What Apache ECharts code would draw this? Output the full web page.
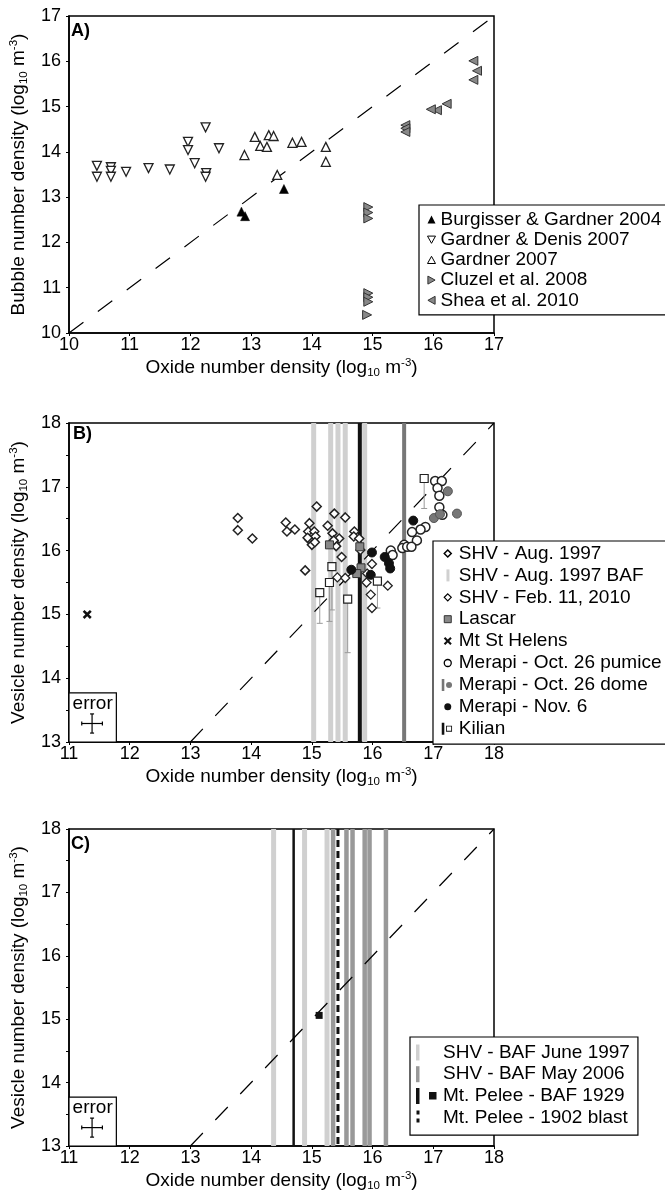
<!DOCTYPE html>
<html><head><meta charset="utf-8">
<script src="https://cdn.jsdelivr.net/npm/echarts@6/dist/echarts.min.js"></script>
<style>html,body{margin:0;padding:0;background:#fff}#c{width:665px;height:1193px}</style>
</head><body><div id="c"></div>
<script>
const FONT = 'Liberation Sans, Arial, Helvetica, sans-serif';

// ---------- Panel A: [oxide, bubble] (log10 m^-3) ----------
const rangeA = [10, 17];
const burgisser = [[12.84,12.68],[12.9,12.58],[13.54,13.18]];
const gardnerDenis = [[10.46,13.69],[10.46,13.45],[10.69,13.66],[10.69,13.58],[10.69,13.45],[10.94,13.56],[11.31,13.64],[11.66,13.61],[11.96,14.22],[11.96,14.04],[12.07,13.75],[12.25,14.54],[12.26,13.53],[12.25,13.45],[12.47,14.08]];
const gardner2007 = [[12.89,13.93],[13.06,14.33],[13.15,14.13],[13.26,14.11],[13.29,14.37],[13.37,14.35],[13.68,14.2],[13.83,14.22],[14.23,14.11],[14.23,13.78],[13.43,13.49]];
const cluzel = [[14.93,12.78],[14.93,12.66],[14.93,12.53],[14.93,10.88],[14.93,10.79],[14.93,10.69],[14.91,10.40]];
const shea = [[16.66,16.01],[16.72,15.79],[16.66,15.59],[16.22,15.06],[16.06,14.92],[15.96,14.94],[15.54,14.59],[15.54,14.52],[15.54,14.44]];

// ---------- Panel B: [oxide, vesicle] ----------
const rangeB = [11, 18];
const rangeVes = [13, 18];
const shvAug1997 = [[13.78,16.51],[13.78,16.32],[14.02,16.19],[14.57,16.44],[14.59,16.30],[14.72,16.33],[14.89,15.69],[14.96,16.43],[14.94,16.30],[15.04,16.30],[14.96,16.17],[15.06,16.22],[14.93,16.20],[15.0,16.09],[15.05,16.13],[15.08,16.69],[15.26,16.39],[15.34,16.27],[15.37,16.58],[15.55,16.52],[15.45,16.19],[15.40,16.07],[15.49,15.90],[15.36,16.16],[15.70,16.30],[15.69,16.22],[15.78,16.19]];
const shvAug1997BAF = [15.03, 15.31, 15.43, 15.55, 15.87];
const shvFeb2010 = [[15.42,15.58],[15.55,15.57],[15.80,16.01],[15.99,15.79],[15.91,15.64],[15.90,15.50],[15.97,15.31],[15.99,15.10],[16.25,15.45]];
const lascar = [[15.29,16.09],[15.79,16.06],[15.81,15.73],[15.74,15.64]];
const mtStHelens = [[11.3,15.0]];
const merapiPumice = [[17.03,17.09],[17.14,17.09],[17.07,16.98],[17.10,16.86],[17.10,16.68],[17.15,16.56],[16.87,16.37],[16.79,16.33],[16.65,16.29],[16.73,16.16],[16.52,16.09],[16.49,16.04],[16.57,16.06],[16.64,16.06],[16.30,16.00],[16.33,15.93]];
const merapiDome = [[17.24,16.93],[17.39,16.58],[17.01,16.51],[17.11,16.57]];
const merapiDomeLines = [16.52];
const merapiNov6 = [[16.67,16.47],[15.99,15.97],[16.20,15.90],[16.27,15.80],[16.29,15.72],[15.65,15.70],[15.97,15.62]];
const kilianLines = [15.79];
// [oxide, vesicle, lower error]
const kilian = [[15.13,15.34,14.86],[15.29,15.50,14.89],[15.33,15.75,15.07],[15.59,15.24,14.40],[16.08,15.52,15.10],[16.85,17.13,16.66]];
// error cross: [x, y, ±x, ±y]; box: [x0, y0, x1, y1]
const errorCross = [11.38, 13.29, 0.17, 0.15];
const errorBox = [11, 13, 11.78, 13.77];

// ---------- Panel C ----------
const shvJune1997BAF = [14.37, 14.88, 15.25];
const shvMay2006BAF = [15.35, 15.57, 15.67, 15.87, 15.95, 16.22];
const pelee1929Lines = [14.70];
const pelee1929 = [[15.12, 15.06]];
const pelee1902Lines = [15.43];

const rich = {
  a:{fontSize:19, fontFamily:FONT, color:'#000', lineHeight:22},
  s:{fontSize:11.5, fontFamily:FONT, color:'#000', lineHeight:22, verticalAlign:'bottom'},
  p:{fontSize:11.5, fontFamily:FONT, color:'#000', lineHeight:22, verticalAlign:'top'}
};
const title = w => `{a|${w} (log}{s|10}{a| m}{p|-3}{a|)}`;

function xAxis(gi, r){
  return {gridIndex:gi, type:'value', min:r[0], max:r[1], interval:1,
    axisLine:{show:true, onZero:false, lineStyle:{color:'#000', width:1.5}},
    axisTick:{show:true, length:3, lineStyle:{color:'#000'}},
    splitLine:{show:false},
    axisLabel:{fontSize:18, color:'#000', fontFamily:FONT, margin:3},
    name:title('Oxide number density'), nameLocation:'middle', nameGap:24,
    nameTextStyle:{rich}};
}
function yAxis(gi, r, step, nm){
  return {gridIndex:gi, type:'value', min:r[0], max:r[1], interval:step,
    axisLine:{show:true, onZero:false, lineStyle:{color:'#000', width:1.5}},
    axisTick:{show:true, length:3, lineStyle:{color:'#000'}},
    splitLine:{show:false},
    axisLabel:{fontSize:18, color:'#000', fontFamily:FONT, margin:8,
      formatter:v => (Math.abs(v - Math.round(v)) < 1e-6 ? String(Math.round(v)) : '')},
    name:title(nm), nameLocation:'middle', nameGap:39, nameTextStyle:{rich}};
}

function vlines(name, gi, xs, color, width, dash){
  return {name, type:'custom', xAxisIndex:gi, yAxisIndex:gi, silent:true,
    data:xs.map(v => [v]), encode:{x:0},
    renderItem:(params, api) => {
      const cs = params.coordSys;
      const x = api.coord([api.value(0), 0])[0];
      return {type:'line', shape:{x1:x, y1:cs.y, x2:x, y2:cs.y + cs.height},
        style:{stroke:color, lineWidth:width, lineDash:dash || null}};
    }};
}
function diag(gi, r){
  return {type:'line', xAxisIndex:gi, yAxisIndex:gi, silent:true, symbol:'none',
    data:r.map(v => [v, v]), lineStyle:{color:'#000', width:1.2, type:[18,18]}, z:3};
}
function pts(name, gi, data, symbol, size, fill, stroke, bw, rot){
  return {name, type:'scatter', xAxisIndex:gi, yAxisIndex:gi, data, symbol, symbolSize:size,
    symbolRotate:rot || 0,
    itemStyle:{color:fill, borderColor:stroke, borderWidth:bw, opacity:1}, z:5};
}
function errorKey(gi){
  return {type:'custom', xAxisIndex:gi, yAxisIndex:gi, silent:true, data:[errorCross],
    renderItem:(params, api) => {
      const [cx, cy, ex, ey] = errorCross;
      const p0 = api.coord([errorBox[0], errorBox[1]]), p1 = api.coord([errorBox[2], errorBox[3]]);
      const l = api.coord([cx-ex, cy]), r = api.coord([cx+ex, cy]);
      const t = api.coord([cx, cy+ey]), b = api.coord([cx, cy-ey]);
      const st = {stroke:'#000', lineWidth:1.2};
      return {type:'group', children:[
        {type:'rect', shape:{x:p0[0], y:p1[1], width:p1[0]-p0[0], height:p0[1]-p1[1]}, style:{fill:'#fff', stroke:'#000', lineWidth:1.2}},
        {type:'line', shape:{x1:l[0], y1:l[1], x2:r[0], y2:r[1]}, style:st},
        {type:'line', shape:{x1:t[0], y1:t[1], x2:b[0], y2:b[1]}, style:st},
        {type:'line', shape:{x1:l[0], y1:l[1]-2, x2:l[0], y2:l[1]+2}, style:st},
        {type:'line', shape:{x1:r[0], y1:r[1]-2, x2:r[0], y2:r[1]+2}, style:st},
        {type:'line', shape:{x1:t[0]-2, y1:t[1], x2:t[0]+2, y2:t[1]}, style:st},
        {type:'line', shape:{x1:b[0]-2, y1:b[1], x2:b[0]+2, y2:b[1]}, style:st},
        {type:'text', style:{text:'error', x:(p0[0]+p1[0])/2, y:p1[1]+1, align:'center', verticalAlign:'top', fontSize:19, fontFamily:FONT, fill:'#000'}}
      ]};
    }, z:6};
}

const XS = 'path://M0,2 L2,0 L5,3 L8,0 L10,2 L7,5 L10,8 L8,10 L5,7 L2,10 L0,8 L3,5 Z';
const C12 = ' M0,0 M12,12';
const legText = {fontSize:19, color:'#000', fontFamily:FONT, lineHeight:19};

const option = {
  backgroundColor:'#fff',
  animation:false,
  title:[
    {text:'A)', left:71, top:22, padding:0, textStyle:{fontSize:18, fontWeight:'bold', fontFamily:FONT, color:'#000'}},
    {text:'B)', left:73, top:425, padding:0, textStyle:{fontSize:18, fontWeight:'bold', fontFamily:FONT, color:'#000'}},
    {text:'C)', left:71, top:835, padding:0, textStyle:{fontSize:18, fontWeight:'bold', fontFamily:FONT, color:'#000'}}
  ],
  grid:[
    {left:66, top:16, width:428, height:317, show:true, borderColor:'#000', borderWidth:1.5},
    {left:66, top:423, width:428, height:319, show:true, borderColor:'#000', borderWidth:1.5},
    {left:66, top:829, width:428, height:318, show:true, borderColor:'#000', borderWidth:1.5}
  ],
  xAxis:[xAxis(0, rangeA), xAxis(1, rangeB), xAxis(2, rangeB)],
  yAxis:[yAxis(0, rangeA, 1, 'Bubble number density'), yAxis(1, rangeVes, 0.5, 'Vesicle number density'), yAxis(2, rangeVes, 0.5, 'Vesicle number density')],
  legend:[
    {left:419, top:205, orient:'vertical', padding:[5,8,5,8], itemGap:1.2, itemWidth:8, itemHeight:8,
     borderColor:'#000', borderWidth:1.2, backgroundColor:'#fff', selectedMode:false, textStyle:legText,
     data:[
       {name:'Burgisser & Gardner 2004', icon:'triangle', itemStyle:{color:'#000', borderWidth:0}},
       {name:'Gardner & Denis 2007', icon:'path://M0,0 L10,0 L5,9 Z', itemStyle:{color:'#fff', borderColor:'#000', borderWidth:1}},
       {name:'Gardner 2007', icon:'path://M0,9 L10,9 L5,0 Z', itemStyle:{color:'#fff', borderColor:'#000', borderWidth:1}},
       {name:'Cluzel et al. 2008', icon:'path://M0,0 L9,5 L0,10 Z', itemStyle:{color:'#888', borderColor:'#333', borderWidth:1}},
       {name:'Shea et al. 2010', icon:'path://M9,0 L0,5 L9,10 Z', itemStyle:{color:'#888', borderColor:'#333', borderWidth:1}}
     ]},
    {left:433, top:541, orient:'vertical', padding:[3,8,6,8], itemGap:2.9, itemWidth:12, itemHeight:12,
     borderColor:'#000', borderWidth:1.2, backgroundColor:'#fff', selectedMode:false, textStyle:legText,
     data:[
       {name:'SHV - Aug. 1997', icon:'path://M6,2.5 L9.5,6 L6,9.5 L2.5,6 Z'+C12, itemStyle:{color:'#fff', borderColor:'#000', borderWidth:1.5}},
       {name:'SHV - Aug. 1997 BAF', icon:'path://M4.5,-1 L8,-1 L8,13 L4.5,13 Z M0,-1 M12,13', itemStyle:{color:'#d0d0d0', borderWidth:0}},
       {name:'SHV - Feb. 11, 2010', icon:'path://M6,2.5 L9.5,6 L6,9.5 L2.5,6 Z'+C12, itemStyle:{color:'#fff', borderColor:'#000', borderWidth:1.2}},
       {name:'Lascar', icon:'path://M2.5,2.5 L9.5,2.5 L9.5,9.5 L2.5,9.5 Z'+C12, itemStyle:{color:'#888', borderColor:'#333', borderWidth:1}},
       {name:'Mt St Helens', icon:'path://M2,3.5 L3.5,2 L6,4.5 L8.5,2 L10,3.5 L7.5,6 L10,8.5 L8.5,10 L6,7.5 L3.5,10 L2,8.5 L4.5,6 Z'+C12, itemStyle:{color:'#111', borderWidth:0}},
       {name:'Merapi - Oct. 26 pumice', icon:'path://M2.5,6 A3.5,3.5 0 1 0 9.5,6 A3.5,3.5 0 1 0 2.5,6 Z'+C12, itemStyle:{color:'#fff', borderColor:'#000', borderWidth:1.3}},
       {name:'Merapi - Oct. 26 dome', icon:'path://M-2,-1 L1,-1 L1,13 L-2,13 Z M3,6 A3.5,3.5 0 1 0 10,6 A3.5,3.5 0 1 0 3,6 Z M-2,-1 M12,13', itemStyle:{color:'#777', borderWidth:0}},
       {name:'Merapi - Nov. 6', icon:'path://M2.5,6 A3.5,3.5 0 1 0 9.5,6 A3.5,3.5 0 1 0 2.5,6 Z'+C12, itemStyle:{color:'#111', borderWidth:0}},
       {name:'Kilian', icon:'path://M-2,-1 L1,-1 L1,13 L-2,13 Z M3,2.5 L10,2.5 L10,9.5 L3,9.5 Z M4,3.5 L4,8.5 L9,8.5 L9,3.5 Z M-2,-1 M12,13', itemStyle:{color:'#111', borderWidth:0}}
     ]},
    {left:410, top:1037, orient:'vertical', padding:[6,8,8,5], itemGap:2.7, itemWidth:23, itemHeight:16,
     borderColor:'#000', borderWidth:1.2, backgroundColor:'#fff', selectedMode:false, textStyle:legText,
     data:[
       {name:'SHV - BAF June 1997', icon:'path://M1,0 L4.5,0 L4.5,16 L1,16 Z M0,0 M23,16', itemStyle:{color:'#d0d0d0', borderWidth:0}},
       {name:'SHV - BAF May 2006', icon:'path://M1,0 L4.5,0 L4.5,16 L1,16 Z M0,0 M23,16', itemStyle:{color:'#999', borderWidth:0}},
       {name:'Mt. Pelee - BAF 1929', icon:'path://M1,0 L4.5,0 L4.5,16 L1,16 Z M14,4 L21.5,4 L21.5,11.5 L14,11.5 Z M0,0 M23,16', itemStyle:{color:'#111', borderWidth:0}},
       {name:'Mt. Pelee - 1902 blast', icon:'path://M1.5,1 L4.5,1 L4.5,5 L1.5,5 Z M1.5,9 L4.5,9 L4.5,13 L1.5,13 Z M0,0 M23,16', itemStyle:{color:'#111', borderWidth:0}}
     ]}
  ],
  series:[
    // A
    diag(0, rangeA),
    pts('Burgisser & Gardner 2004', 0, burgisser, 'triangle', 9, '#000', '#000', 0.5),
    pts('Gardner & Denis 2007', 0, gardnerDenis, 'triangle', 9, '#fff', '#222', 1.3, 180),
    pts('Gardner 2007', 0, gardner2007, 'triangle', 9, '#fff', '#222', 1.3),
    pts('Cluzel et al. 2008', 0, cluzel, 'triangle', 9, '#888', '#333', 1, -90),
    pts('Shea et al. 2010', 0, shea, 'triangle', 9, '#888', '#333', 1, 90),
    // B
    vlines('SHV - Aug. 1997 BAF', 1, shvAug1997BAF, '#d0d0d0', 5),
    vlines('Kilian', 1, kilianLines, '#111', 4),
    vlines('Merapi - Oct. 26 dome', 1, merapiDomeLines, '#777', 4),
    diag(1, rangeVes),
    {name:'Kilian', type:'custom', xAxisIndex:1, yAxisIndex:1, silent:true, data:kilian, encode:{x:0, y:[1,2]},
     renderItem:(params, api) => {
       const t = api.coord([api.value(0), api.value(1)]);
       const b = api.coord([api.value(0), api.value(2)]);
       const st = {stroke:'#9a9a9a', lineWidth:1};
       return {type:'group', children:[
         {type:'line', shape:{x1:t[0], y1:t[1], x2:b[0], y2:b[1]}, style:st},
         {type:'line', shape:{x1:b[0]-3, y1:b[1], x2:b[0]+3, y2:b[1]}, style:st}
       ]};
     }, z:4},
    pts('SHV - Aug. 1997', 1, shvAug1997, 'diamond', 9, '#fff', '#222', 1.5),
    pts('SHV - Feb. 11, 2010', 1, shvFeb2010, 'diamond', 9, '#fff', '#222', 1.3),
    pts('Lascar', 1, lascar, 'rect', 8, '#888', '#333', 1),
    pts('Mt St Helens', 1, mtStHelens, XS, 9, '#111', '#111', 0),
    pts('Merapi - Oct. 26 pumice', 1, merapiPumice, 'circle', 9, '#fff', '#222', 1.5),
    pts('Merapi - Oct. 26 dome', 1, merapiDome, 'circle', 9, '#777', '#555', 1),
    pts('Merapi - Nov. 6', 1, merapiNov6, 'circle', 9, '#111', '#111', 1),
    pts('Kilian', 1, kilian.map(d => [d[0], d[1]]), 'rect', 8, '#fff', '#222', 1.2),
    errorKey(1),
    // C
    vlines('SHV - BAF June 1997', 2, shvJune1997BAF, '#d0d0d0', 5),
    vlines('SHV - BAF May 2006', 2, shvMay2006BAF, '#999', 4.5),
    vlines('Mt. Pelee - BAF 1929', 2, pelee1929Lines, '#111', 2.5),
    vlines('Mt. Pelee - 1902 blast', 2, pelee1902Lines, '#111', 3, [7,4]),
    diag(2, rangeVes),
    pts('Mt. Pelee - BAF 1929', 2, pelee1929, 'rect', 7, '#111', '#111', 0),
    errorKey(2)
  ]
};
const chart = echarts.init(document.getElementById('c'), null, {renderer:'canvas'});
chart.setOption(option);
</script>
</body></html>
